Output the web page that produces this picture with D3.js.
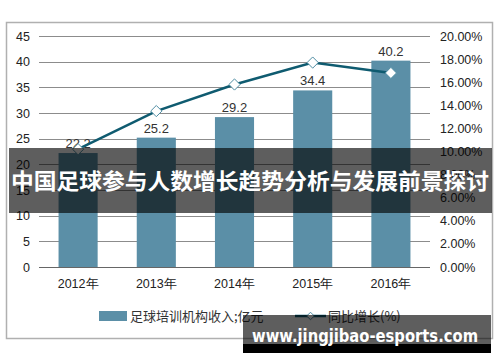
<!DOCTYPE html>
<html>
<head>
<meta charset="utf-8">
<script src="https://cdn.jsdelivr.net/npm/d3@7"></script>
<style>
  body { margin: 0; background: #fff; }
  svg { display: block; font-family: "Liberation Sans", Arial, sans-serif; }
</style>
</head>
<body>
<svg id="chart" width="500" height="362"></svg>
<script>
var years = ['2012年', '2013年', '2014年', '2015年', '2016年']
var income = [22.2, 25.2, 29.2, 34.4, 40.2]
var growth = [0.102, 0.135, 0.158, 0.177, 0.168]
var leftTicks = [0, 5, 10, 15, 20, 25, 30, 35, 40, 45]
var rightTicks = [0, 0.02, 0.04, 0.06, 0.08, 0.10, 0.12, 0.14, 0.16, 0.18, 0.20]

var svg = d3.select('#chart')

// chart frame
svg.append('rect').attr('x', 6.5).attr('y', 22.5).attr('width', 486).attr('height', 316)
  .attr('fill', '#fff').attr('stroke', '#b0b0b0').attr('stroke-width', 1.5)

var x = d3.scaleBand().domain(years).range([39, 430]).paddingInner(0.5).paddingOuter(0.25)
var y = d3.scaleLinear().domain([0, 45]).range([267, 36])
var y2 = d3.scaleLinear().domain([0, 0.2]).range([267, 36])

// grid
svg.append('g').selectAll('line').data(leftTicks).enter().append('line')
  .attr('x1', 39).attr('x2', 430)
  .attr('y1', function(d) { return Math.round(y(d)) + 0.5 })
  .attr('y2', function(d) { return Math.round(y(d)) + 0.5 })
  .attr('stroke', function(d) { return d === 0 ? '#666' : '#8c8c8c' })
  .attr('stroke-width', 1)

var leftAxis = d3.axisLeft(y).tickValues(leftTicks).tickSize(0).tickPadding(0)
svg.append('g').attr('transform', 'translate(30,0)').call(leftAxis)
  .call(function(g) { g.select('.domain').remove() })
  .selectAll('text').attr('font-size', 12.5).attr('fill', '#222')
  .attr('font-family', '"Liberation Sans", Arial, sans-serif')

var rightAxis = d3.axisRight(y2).tickValues(rightTicks).tickSize(0).tickPadding(0)
  .tickFormat(d3.format('.2%'))
svg.append('g').attr('transform', 'translate(440,0)').call(rightAxis)
  .call(function(g) { g.select('.domain').remove() })
  .selectAll('text').attr('font-size', 12.5).attr('fill', '#222')
  .attr('font-family', '"Liberation Sans", Arial, sans-serif')

var bottomAxis = d3.axisBottom(x).tickSize(0).tickPadding(0)
svg.append('g').attr('transform', 'translate(0,279)').call(bottomAxis)
  .call(function(g) { g.select('.domain').remove() })
  .selectAll('text').attr('font-size', 12.5).attr('fill', '#222')
  .attr('font-family', '"Liberation Sans", Arial, sans-serif')

// bars
svg.append('g').selectAll('rect').data(income).enter().append('rect')
  .attr('x', function(d, i) { return x(years[i]) })
  .attr('y', function(d) { return y(d) })
  .attr('width', x.bandwidth())
  .attr('height', function(d) { return y(0) - y(d) })
  .attr('fill', '#5b8fa7')

svg.append('g').selectAll('text').data(income).enter().append('text')
  .attr('x', function(d, i) { return x(years[i]) + x.bandwidth() / 2 })
  .attr('y', function(d) { return y(d) - 5 })
  .attr('text-anchor', 'middle')
  .attr('font-size', 13).attr('fill', '#333')
  .text(function(d) { return d.toFixed(1) })

// growth line
var line = d3.line()
  .x(function(d, i) { return x(years[i]) + x.bandwidth() / 2 })
  .y(function(d) { return y2(d) })
svg.append('path').datum(growth).attr('d', line)
  .attr('fill', 'none').attr('stroke', '#0f5b70').attr('stroke-width', 2.5)

var diamond = d3.symbol().type(d3.symbolDiamond2).size(80)
svg.append('g').selectAll('path').data(growth).enter().append('path')
  .attr('d', diamond)
  .attr('transform', function(d, i) { return 'translate(' + (x(years[i]) + x.bandwidth() / 2) + ',' + y2(d) + ')' })
  .attr('fill', '#fff').attr('stroke', '#4f8da3').attr('stroke-width', 1)

// legend
var lg = svg.append('g').attr('transform', 'translate(0,316)')
lg.append('rect').attr('x', 99).attr('y', -5).attr('width', 28).attr('height', 10).attr('fill', '#5b8fa7')
lg.append('text').attr('x', 130).attr('y', 5).attr('font-size', 13).attr('fill', '#333')
  .attr('font-family', '"Noto Sans CJK SC", sans-serif').text('足球培训机构收入;亿元')
lg.append('line').attr('x1', 295).attr('x2', 326).attr('y1', 0).attr('y2', 0)
  .attr('stroke', '#0f5b70').attr('stroke-width', 2.5)
lg.append('path').attr('d', d3.symbol().type(d3.symbolDiamond2).size(36))
  .attr('transform', 'translate(310.5,0)').attr('fill', '#fff').attr('stroke', '#4f8da3')
lg.append('text').attr('x', 328).attr('y', 5).attr('font-size', 13).attr('fill', '#333')
  .attr('font-family', '"Noto Sans CJK SC", sans-serif').text('同比增长(%)')

// title banner overlay
svg.append('rect').attr('x', 9).attr('y', 148).attr('width', 483).attr('height', 65)
  .attr('fill', 'rgba(0,0,0,0.63)')
svg.append('text').attr('x', 250).attr('y', 189).attr('text-anchor', 'middle')
  .attr('font-size', 22).attr('font-weight', 'bold').attr('fill', '#fff')
  .attr('font-family', '"Noto Sans CJK SC", sans-serif')
  .attr('textLength', 478).attr('lengthAdjust', 'spacingAndGlyphs')
  .text('中国足球参与人数增长趋势分析与发展前景探讨')

// watermark
svg.append('rect').attr('x', 243).attr('y', 315).attr('width', 248).attr('height', 29)
  .attr('fill', 'rgba(0,0,0,0.63)')
svg.append('rect').attr('x', 243).attr('y', 344).attr('width', 248).attr('height', 9)
  .attr('fill', '#000')
svg.append('text').attr('x', 365).attr('y', 342).attr('text-anchor', 'middle')
  .attr('font-size', 17).attr('font-weight', 'bold').attr('fill', '#fff')
  .attr('font-family', '"DejaVu Sans", sans-serif')
  .attr('textLength', 226).attr('lengthAdjust', 'spacingAndGlyphs')
  .text('www.jingjibao-esports.com')
</script>
</body>
</html>
